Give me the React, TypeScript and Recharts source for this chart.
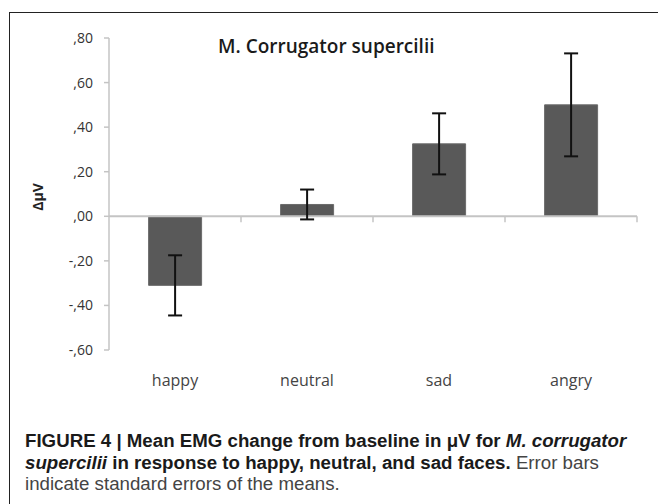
import { BarChart, Bar, XAxis, YAxis, ErrorBar, ReferenceLine } from 'recharts';

const conditions = ['happy', 'neutral', 'sad', 'angry'];
const meanChange = [-0.31, 0.053, 0.325, 0.5];
const stdError = [0.135, 0.067, 0.137, 0.231];
const yTicks = [-0.6, -0.4, -0.2, 0, 0.2, 0.4, 0.6, 0.8];

const chartData = conditions.map((name, i) => ({
  name,
  value: meanChange[i],
  err: stdError[i],
}));

// SPSS-style labels: ,80 / -,20
const fmtTick = (v: number) => v.toFixed(2).replace('0.', ',');

const axisGray = '#c4c4c4';

// zero line with ticks at category boundaries
function ZeroAxis(props: any) {
  const { x1, x2, y1 } = props;
  const n = conditions.length;
  const step = (x2 - x1) / n;
  const ticks = [];
  for (let i = 1; i <= n; i++) {
    const x = x1 + step * i;
    ticks.push(<line key={i} x1={x} x2={x} y1={y1} y2={y1 + 6} stroke={axisGray} strokeWidth={1.5} />);
  }
  return (
    <g>
      <line x1={x1} x2={x2} y1={y1} y2={y1} stroke={axisGray} strokeWidth={2} />
      {ticks}
    </g>
  );
}

function YLabel(props: any) {
  const { viewBox } = props;
  const cx = 37;
  const cy = viewBox.y + viewBox.height / 2 + 3;
  return (
    <text
      x={cx}
      y={cy}
      transform={`rotate(-90, ${cx}, ${cy})`}
      textAnchor="middle"
      dominantBaseline="central"
      fontFamily="Open Sans, sans-serif"
      fontWeight={700}
      fontSize={14}
      fill="#222"
    >
      ΔμV
    </text>
  );
}

export default function App() {
  return (
    <div style={{ position: 'absolute', left: 0, top: 0, width: 658, height: 504, background: '#fff', overflow: 'hidden' }}>
      <div style={{ position: 'absolute', left: 9, top: 12, right: 0, bottom: 0, borderTop: '1.5px solid #222', borderLeft: '1.5px solid #222' }} />

      <div style={{ position: 'absolute', left: 0, top: 0 }}>
        <BarChart
          width={658}
          height={400}
          data={chartData}
          margin={{ top: 38, right: 21, left: 59, bottom: 10 }}
          barCategoryGap="30%"
        >
          <YAxis
            width={50}
            domain={[-0.6, 0.8]}
            ticks={yTicks}
            tickFormatter={fmtTick}
            axisLine={{ stroke: axisGray, strokeWidth: 1.5 }}
            tickLine={{ stroke: axisGray, strokeWidth: 1.5 }}
            tickSize={5}
            tickMargin={11}
            tick={{ fontFamily: 'Open Sans, sans-serif', fontSize: 14, fill: '#333' }}
            label={<YLabel />}
          />
          <XAxis
            dataKey="name"
            height={40}
            axisLine={false}
            tickLine={false}
            tickMargin={19}
            tick={{ fontFamily: 'Open Sans, sans-serif', fontSize: 16, fill: '#444' }}
          />
          <ReferenceLine y={0} shape={<ZeroAxis />} />
          <Bar dataKey="value" fill="#595959" stroke="#6a6a6a" strokeWidth={1} isAnimationActive={false}>
            <ErrorBar dataKey="err" width={7} stroke="#111" strokeWidth={2} direction="y" />
          </Bar>
        </BarChart>
      </div>

      <div
        style={{
          position: 'absolute',
          left: 218,
          top: 33,
          fontFamily: 'Open Sans, sans-serif',
          fontWeight: 600,
          fontSize: 19,
          color: '#1a1a1a',
          whiteSpace: 'nowrap',
        }}
      >
        M. Corrugator supercilii
      </div>

      <div
        style={{
          position: 'absolute',
          left: 25,
          top: 430,
          fontFamily: '"Liberation Sans", Arial, sans-serif',
          fontSize: 18.7,
          lineHeight: '21.5px',
          color: '#444',
          whiteSpace: 'nowrap',
        }}
      >
        <b style={{ color: '#1a1a1a' }}>
          FIGURE 4 | Mean EMG change from baseline in μV for <i>M. corrugator</i>
          <br />
          <i>supercilii</i> in response to happy, neutral, and sad faces.
        </b>{' '}
        Error bars
        <br />
        indicate standard errors of the means.
      </div>
    </div>
  );
}
